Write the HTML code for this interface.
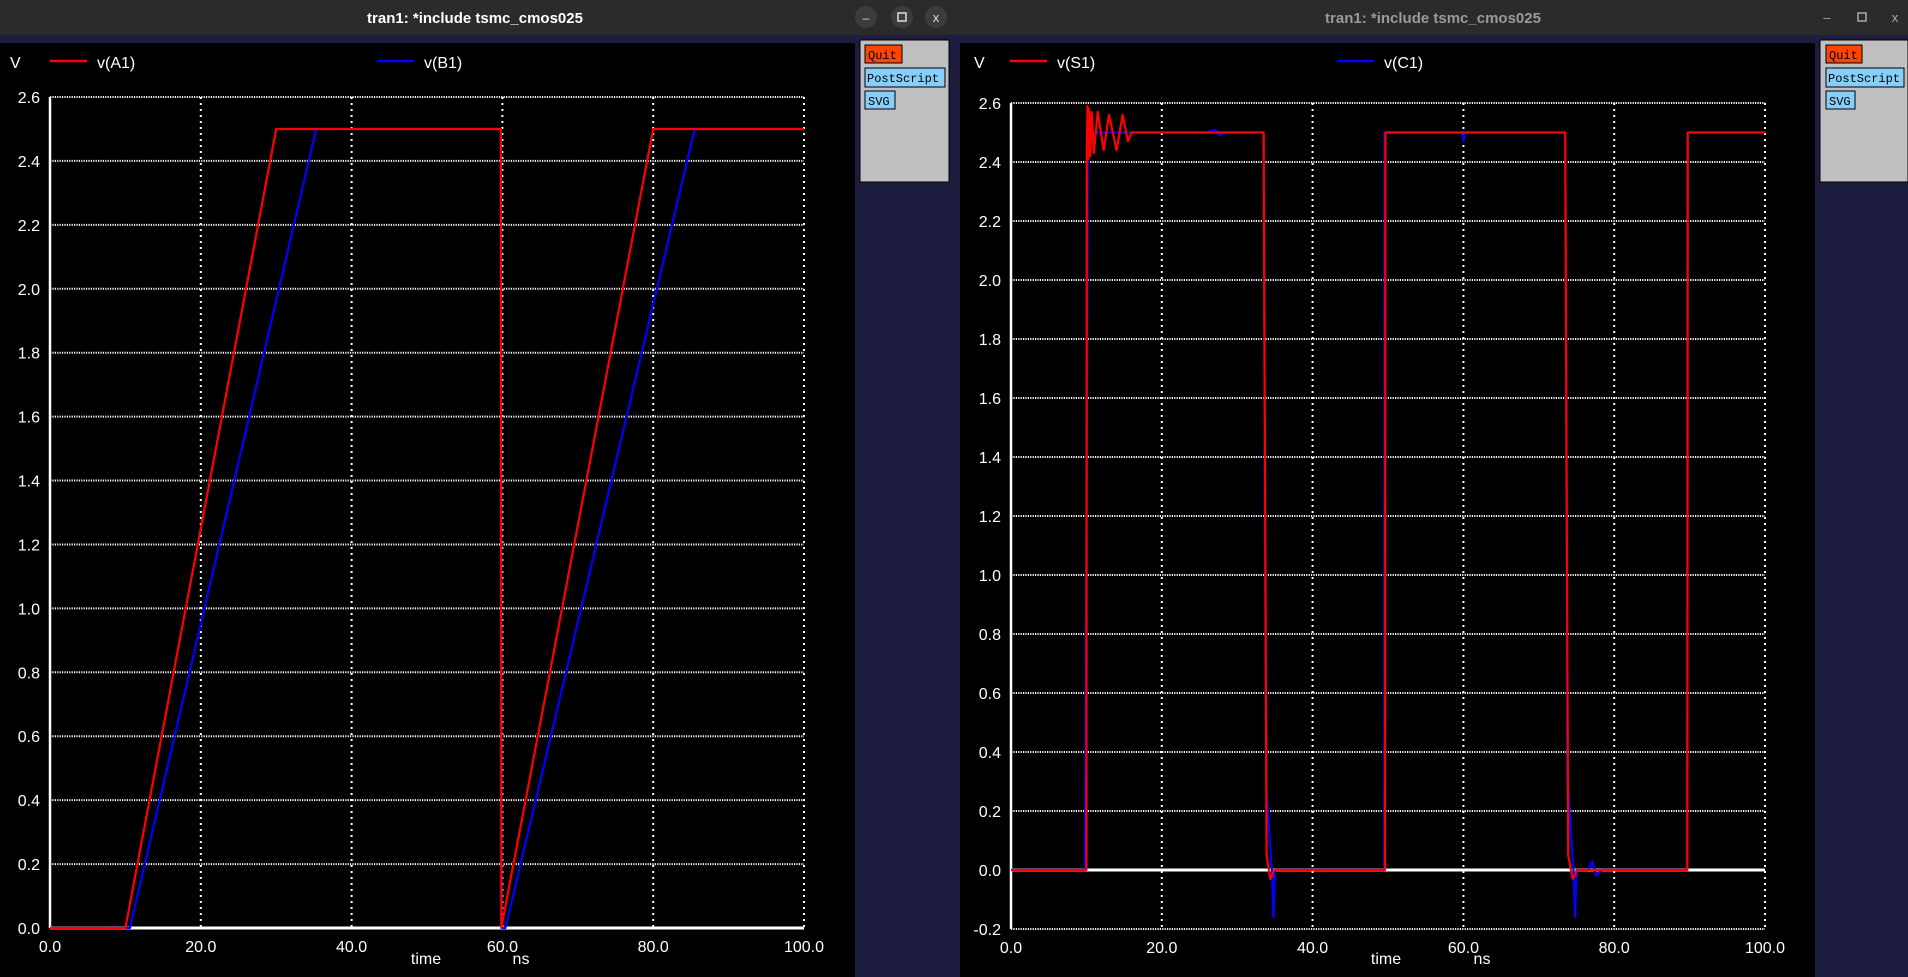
<!DOCTYPE html>
<html><head><meta charset="utf-8"><style>
html,body{margin:0;padding:0;background:#1d1d40;width:1908px;height:977px;overflow:hidden}
svg{display:block;font-family:"Liberation Sans",sans-serif}
</style></head><body>
<svg id="root" width="1908" height="977" viewBox="0 0 1908 977">
<rect x="0" y="0" width="1908" height="977" fill="#1d1d40"/>
<g>
<rect x="0" y="0" width="955" height="35" fill="#2b2b2b"/>
<text x="475" y="23" text-anchor="middle" fill="#ffffff" font-size="15" font-weight="bold">tran1: *include tsmc_cmos025</text>
<circle cx="866" cy="17" r="11" fill="#3c3c3c"/>
<text x="866" y="22" text-anchor="middle" fill="#ddd" font-size="12">–</text>
<circle cx="902" cy="17" r="11" fill="#3c3c3c"/>
<rect x="898" y="13" width="8" height="8" fill="none" stroke="#ddd" stroke-width="1.5"/>
<circle cx="936" cy="17" r="11" fill="#3c3c3c"/>
<text x="936" y="22" text-anchor="middle" fill="#ddd" font-size="13">x</text>
<rect x="0" y="43" width="855" height="934" fill="#000"/>
<rect x="860" y="40" width="89" height="142" fill="#c0c0c0" stroke="#000"/>
<rect x="865" y="45" width="37" height="18" fill="#ff4500" stroke="#000"/>
<text x="868" y="59" font-family="Liberation Mono,monospace" font-size="12" fill="#000">Quit</text>
<rect x="865" y="68" width="80" height="19" fill="#87cefa" stroke="#000"/>
<text x="867" y="82" font-family="Liberation Mono,monospace" font-size="12" fill="#000">PostScript</text>
<rect x="865" y="91" width="30" height="18" fill="#87cefa" stroke="#000"/>
<text x="868" y="105" font-family="Liberation Mono,monospace" font-size="12" fill="#000">SVG</text>
<g id="plotL"></g>
</g>
<g>
<rect x="955" y="0" width="953" height="35" fill="#2b2b2b"/>
<text x="1433" y="23" text-anchor="middle" fill="#9a9a9a" font-size="15" font-weight="bold">tran1: *include tsmc_cmos025</text>
<text x="1827" y="22" text-anchor="middle" fill="#aaa" font-size="13">–</text>
<rect x="1858" y="13" width="8" height="8" fill="none" stroke="#aaa" stroke-width="1.5"/>
<text x="1895" y="22" text-anchor="middle" fill="#aaa" font-size="13">x</text>
<rect x="960" y="43" width="855" height="934" fill="#000"/>
<rect x="1820" y="40" width="88" height="142" fill="#c0c0c0" stroke="#000"/>
<rect x="1826" y="45" width="36" height="18" fill="#ff4500" stroke="#000"/>
<text x="1829" y="59" font-family="Liberation Mono,monospace" font-size="12" fill="#000">Quit</text>
<rect x="1826" y="68" width="78" height="19" fill="#87cefa" stroke="#000"/>
<text x="1828" y="82" font-family="Liberation Mono,monospace" font-size="12" fill="#000">PostScript</text>
<rect x="1826" y="91" width="29" height="18" fill="#87cefa" stroke="#000"/>
<text x="1829" y="105" font-family="Liberation Mono,monospace" font-size="12" fill="#000">SVG</text>
<g id="plotR"></g>
</g>
</svg>
<script>
// Left chart data
const xTicks = [0, 20, 40, 60, 80, 100];
const xTickLabels = ["0.0", "20.0", "40.0", "60.0", "80.0", "100.0"];
const leftYTicks = [0, 0.2, 0.4, 0.6, 0.8, 1.0, 1.2, 1.4, 1.6, 1.8, 2.0, 2.2, 2.4, 2.6];
const leftYLabels = ["0.0","0.2","0.4","0.6","0.8","1.0","1.2","1.4","1.6","1.8","2.0","2.2","2.4","2.6"];
const a1Time = [0, 10, 30, 59.8, 59.85, 80, 100];
const a1Volt = [0, 0, 2.5, 2.5, 0, 2.5, 2.5];
const b1Time = [0, 10.6, 35.3, 59.8, 59.9, 60.4, 85.5, 100];
const b1Volt = [0, 0, 2.5, 2.5, 0, 0, 2.5, 2.5];
// Right chart data
const rightYTicks = [-0.2, 0, 0.2, 0.4, 0.6, 0.8, 1.0, 1.2, 1.4, 1.6, 1.8, 2.0, 2.2, 2.4, 2.6];
const rightYLabels = ["-0.2","0.0","0.2","0.4","0.6","0.8","1.0","1.2","1.4","1.6","1.8","2.0","2.2","2.4","2.6"];
const s1Time = [0, 10, 10.05, 10.15, 10.25, 10.35, 10.5, 10.7, 11, 11.5, 12.3, 13, 14, 14.8, 15.5, 16, 33.5, 33.9, 34.4, 34.9, 49.6, 49.65, 73.5, 73.9, 74.5, 75.1, 89.7, 89.75, 100];
const s1Volt = [0, 0, 2.42, 2.59, 2.41, 2.58, 2.42, 2.57, 2.43, 2.57, 2.44, 2.56, 2.44, 2.56, 2.47, 2.5, 2.5, 0.05, -0.03, 0, 0, 2.5, 2.5, 0.05, -0.03, 0, 0, 2.5, 2.5];
const c1Time = [0, 9.8, 9.9, 10.2, 26, 27, 27.7, 28.5, 33.5, 33.8, 34.6, 34.8, 35.0, 49.5, 49.55, 59.8, 60, 60.2, 73.5, 73.8, 74.6, 74.8, 75.0, 76.6, 77.1, 77.6, 78.3, 89.7, 89.75, 100];
const c1Volt = [0, 0, 0.5, 2.5, 2.5, 2.51, 2.49, 2.5, 2.5, 0.3, 0, -0.16, 0, 0, 2.5, 2.5, 2.47, 2.5, 2.5, 0.3, 0, -0.16, 0, 0, 0.03, -0.02, 0, 0, 2.5, 2.5];

const NS = "http://www.w3.org/2000/svg";
function mk(parent, tag, attrs) {
  const e = document.createElementNS(NS, tag);
  for (const k in attrs) e.setAttribute(k, attrs[k]);
  parent.appendChild(e);
  return e;
}
function drawChart(gId, cfg) {
  const g = document.getElementById(gId);
  const sx = t => cfg.x0 + (t - 0) / 100 * (cfg.x1 - cfg.x0);
  const sy = v => cfg.yBot - (v - cfg.vMin) / (cfg.vMax - cfg.vMin) * (cfg.yBot - cfg.yTop);
  cfg.yTicks.forEach((v, i) => {
    const y = sy(v);
    const solid = Math.abs(v) < 1e-9;
    const ln = mk(g, "line", {x1: cfg.x0, x2: cfg.x1, y1: y, y2: y, stroke: "#fff", "stroke-width": solid ? 3 : 2, "stroke-dasharray": solid ? "none" : "1.2 1.2"});
    
    
    const tx = mk(g, "text", {x: cfg.x0 - 10, y: y + 6, "text-anchor": "end", fill: "#fff", "font-size": 16});
    tx.textContent = cfg.yLabels[i];
    
    
  });
  xTicks.forEach((t, i) => {
    const x = sx(t);
    if (t > 0) {
      const ln = mk(g, "line", {x1: x, x2: x, y1: cfg.yTop, y2: cfg.yBot, stroke: "#fff", "stroke-width": 2, "stroke-dasharray": "2 4"});
      
      
    }
    const tx = mk(g, "text", {x: x, y: cfg.yBot + 24, "text-anchor": "middle", fill: "#fff", "font-size": 16});
    tx.textContent = xTickLabels[i];
    
    
  });
  const ax = mk(g, "line", {x1: cfg.x0, x2: cfg.x0, y1: cfg.yTop, y2: cfg.yBot, stroke: "#fff", "stroke-width": 2.5});
  
  
  cfg.series.forEach(s => {
    const pts = s.t.map((t, i) => sx(t).toFixed(1) + "," + sy(s.v[i]).toFixed(1)).join(" ");
    const pl = mk(g, "polyline", {points: pts, fill: "none", stroke: s.color, "stroke-width": 2.2, "stroke-linejoin": "round"});
    
    
  });
  const vt = mk(g, "text", {x: cfg.lx, y: 68, fill: "#fff", "font-size": 16});
  vt.textContent = "V";
  
  
  cfg.legend.forEach(L => {
    const ln = mk(g, "line", {x1: L.x, x2: L.x + 37, y1: 61, y2: 61, stroke: L.color, "stroke-width": 2.5});
    
    
    const tx = mk(g, "text", {x: L.x + 47, y: 68, fill: "#fff", "font-size": 16});
    tx.textContent = L.label;
    
    
  });
  const tt = mk(g, "text", {x: cfg.timeX, y: 964, "text-anchor": "middle", fill: "#fff", "font-size": 16});
  tt.textContent = "time";
  
  
  const nt = mk(g, "text", {x: cfg.nsX, y: 964, "text-anchor": "middle", fill: "#fff", "font-size": 16});
  nt.textContent = "ns";
  
  
}
drawChart("plotL", {x0: 50, x1: 804, yTop: 97, yBot: 928, vMin: 0, vMax: 2.6,
  yTicks: leftYTicks, yLabels: leftYLabels, lx: 10, timeX: 426, nsX: 521,
  legend: [{x: 50, color: "#ff0000", label: "v(A1)"}, {x: 377, color: "#0000ff", label: "v(B1)"}],
  series: [{t: b1Time, v: b1Volt, color: "#0000ff", name: "series-b1"}, {t: a1Time, v: a1Volt, color: "#ff0000", name: "series-a1"}]});
drawChart("plotR", {x0: 1011, x1: 1765, yTop: 103, yBot: 929, vMin: -0.2, vMax: 2.6,
  yTicks: rightYTicks, yLabels: rightYLabels, lx: 974, timeX: 1386, nsX: 1482,
  legend: [{x: 1010, color: "#ff0000", label: "v(S1)"}, {x: 1337, color: "#0000ff", label: "v(C1)"}],
  series: [{t: c1Time, v: c1Volt, color: "#0000ff", name: "series-c1"}, {t: s1Time, v: s1Volt, color: "#ff0000", name: "series-s1"}]});
</script>
</body></html>
